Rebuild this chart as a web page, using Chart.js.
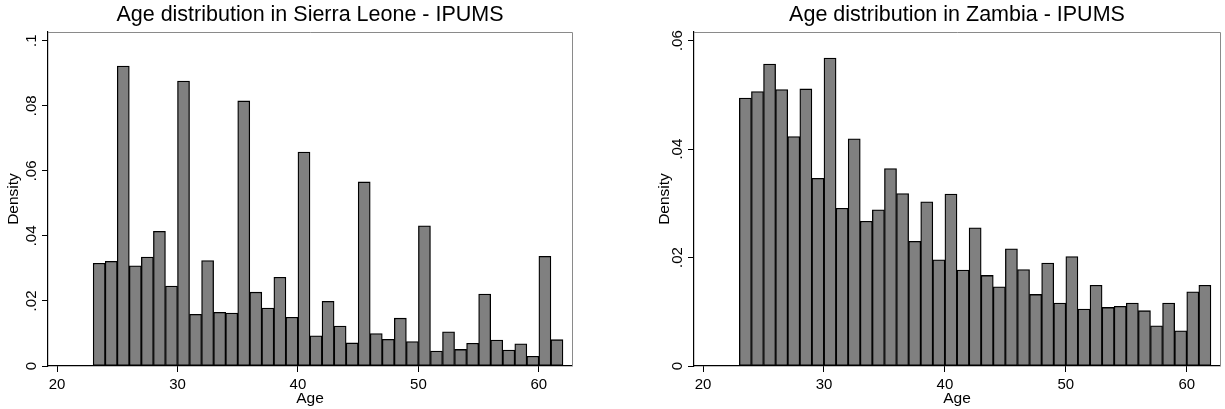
<!DOCTYPE html>
<html>
<head>
<meta charset="utf-8">
<script src="https://cdn.jsdelivr.net/npm/chart.js@4"></script>
<style>
  html, body { margin: 0; padding: 0; background: #fff; }
  body { width: 1225px; height: 409px; position: relative; overflow: hidden; }
  canvas { position: absolute; top: 0; }
  #sierra { left: 0; }
  #zambia { left: 612px; }
</style>
</head>
<body>
<canvas id="sierra" width="612" height="409"></canvas>
<canvas id="zambia" width="613" height="409"></canvas>
<script>
// Age bins (left edge of each 1-year bin)
const ageBins = [23, 24, 25, 26, 27, 28, 29, 30, 31, 32, 33, 34, 35, 36, 37, 38, 39, 40, 41, 42,
  43, 44, 45, 46, 47, 48, 49, 50, 51, 52, 53, 54, 55, 56, 57, 58, 59, 60, 61];

// Density per bin
const sierraDensity = [0.0316, 0.0322, 0.0922, 0.0308, 0.0335, 0.0414, 0.0246, 0.0876, 0.0159, 0.0324,
  0.0165, 0.0163, 0.0815, 0.0227, 0.0178, 0.0273, 0.0150, 0.0658, 0.0093, 0.0199,
  0.0123, 0.0071, 0.0566, 0.0100, 0.0082, 0.0147, 0.0075, 0.0431, 0.0046, 0.0105,
  0.0051, 0.0070, 0.0221, 0.0080, 0.0049, 0.0068, 0.0030, 0.0337, 0.0081];

const zambiaDensity = [0.0494, 0.0506, 0.0557, 0.0510, 0.0423, 0.0511, 0.0346, 0.0568, 0.0291, 0.0419,
  0.0267, 0.0288, 0.0364, 0.0318, 0.0230, 0.0303, 0.0196, 0.0317, 0.0177, 0.0255,
  0.0167, 0.0146, 0.0216, 0.0178, 0.0132, 0.0190, 0.0116, 0.0202, 0.0105, 0.0149,
  0.0108, 0.0110, 0.0116, 0.0102, 0.0074, 0.0116, 0.0065, 0.0137, 0.0149];

// Tick labels
const ageTicks = [20, 30, 40, 50, 60];
const sierraDensityTicks = [0, 0.02, 0.04, 0.06, 0.08, 0.1];
const zambiaDensityTicks = [0, 0.02, 0.04, 0.06];

const FONT = '"Liberation Sans", Arial, sans-serif';

// Stata style number format: .02, .1, 0
const formatDensity = (v) => {
  if (v === 0) return '0';
  return String(+v.toFixed(2)).replace(/^0/, '');
};

// Draws titles, tick labels (rotated on y) and the grey frame
const stataText = {
  id: 'stataText',
  afterDraw(chart, args, opts) {
    const { ctx, chartArea: a, scales } = chart;
    ctx.save();

    // top and right frame
    ctx.strokeStyle = '#8a8a8a';
    ctx.lineWidth = 1;
    ctx.beginPath();
    ctx.moveTo(a.left, a.top + 0.5);
    ctx.lineTo(a.right + 0.5, a.top + 0.5);
    ctx.lineTo(a.right + 0.5, a.bottom);
    ctx.stroke();

    ctx.fillStyle = '#000';
    ctx.textAlign = 'center';
    ctx.textBaseline = 'middle';

    // title
    ctx.font = '21.5px ' + FONT;
    ctx.fillText(opts.title, (a.left + a.right) / 2, 15);

    // x tick labels
    ctx.font = '15px ' + FONT;
    scales.x.ticks.forEach(t => {
      ctx.fillText(String(t.value), scales.x.getPixelForValue(t.value), 385);
    });

    // x title
    ctx.font = '15.5px ' + FONT;
    ctx.fillText('Age', (a.left + a.right) / 2, 399);

    // y tick labels, rotated
    ctx.font = '15px ' + FONT;
    scales.y.ticks.forEach(t => {
      const y = scales.y.getPixelForValue(t.value);
      ctx.save();
      ctx.translate(a.left - 16, y);
      ctx.rotate(-Math.PI / 2);
      ctx.fillText(formatDensity(t.value), 0, 0);
      ctx.restore();
    });

    // y title
    ctx.font = '15.5px ' + FONT;
    ctx.save();
    ctx.translate(a.left - opts.yTitleOffset, (a.top + a.bottom) / 2);
    ctx.rotate(-Math.PI / 2);
    ctx.fillText('Density', 0, 0);
    ctx.restore();

    ctx.restore();
  }
};

const makeHistogram = (canvasId, values, yTicks, cfg) => {
  const ctx = document.getElementById(canvasId);
  return new Chart(ctx, {
    type: 'bar',
    data: {
      datasets: [{
        data: ageBins.map((b, i) => ({ x: b + 0.5, y: values[i] })),
        backgroundColor: '#808080',
        borderColor: '#000',
        borderWidth: 1.3,
        borderSkipped: false,
        barPercentage: 1,
        categoryPercentage: 1
      }]
    },
    options: {
      responsive: false,
      animation: false,
      events: [],
      layout: {
        padding: { left: cfg.padLeft, right: cfg.padRight, top: 32, bottom: 0 }
      },
      scales: {
        x: {
          type: 'linear',
          min: 19.25,
          max: 62.75,
          offset: false,
          afterBuildTicks: (scale) => { scale.ticks = ageTicks.map(v => ({ value: v })); },
          afterFit: (scale) => { scale.height = 43; },
          ticks: { display: false },
          grid: {
            offset: false,
            drawOnChartArea: false,
            color: '#000',
            tickLength: 6
          },
          border: { display: true, color: '#000', width: 1.2 }
        },
        y: {
          type: 'linear',
          min: 0,
          max: cfg.yMax,
          afterBuildTicks: (scale) => { scale.ticks = yTicks.map(v => ({ value: v })); },
          afterFit: (scale) => { scale.width = 48; },
          ticks: { display: false },
          grid: {
            drawOnChartArea: false,
            color: '#000',
            tickLength: 6
          },
          border: { display: true, color: '#000', width: 1.2 }
        }
      },
      plugins: {
        legend: { display: false },
        tooltip: { enabled: false },
        stataText: { title: cfg.title, yTitleOffset: cfg.yTitleOffset }
      }
    },
    plugins: [stataText]
  });
};

makeHistogram('sierra', sierraDensity, sierraDensityTicks, {
  title: 'Age distribution in Sierra Leone - IPUMS',
  yMax: 0.1027,
  padLeft: 0,
  padRight: 40,
  yTitleOffset: 34
});

makeHistogram('zambia', zambiaDensity, zambiaDensityTicks, {
  title: 'Age distribution in Zambia - IPUMS',
  yMax: 0.0616,
  padLeft: 34,
  padRight: 5,
  yTitleOffset: 29
});
</script>
</body>
</html>
